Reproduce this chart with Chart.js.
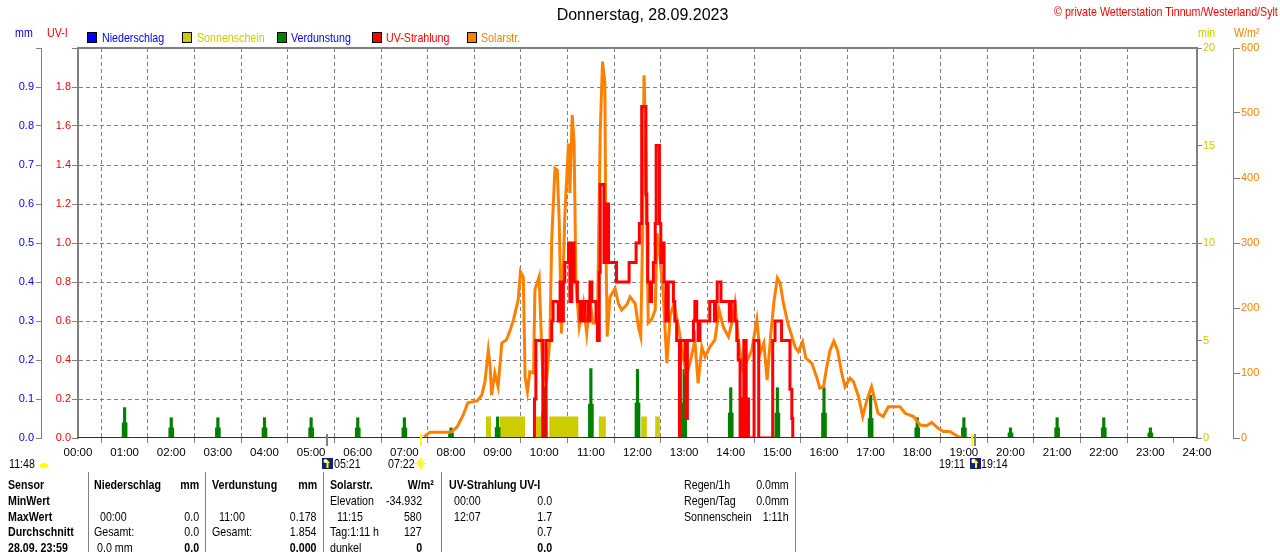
<!DOCTYPE html>
<html><head><meta charset="utf-8">
<script src="https://cdn.jsdelivr.net/npm/chart.js@4/dist/chart.umd.min.js"></script>
<style>
html,body{margin:0;padding:0;background:#fff;}
#wrap{position:relative;width:1280px;height:552px;overflow:hidden;font-family:'Liberation Sans',Arial,sans-serif;font-size:13px;color:#000;}
#c{position:absolute;left:0;top:0;}
.t{position:absolute;white-space:nowrap;line-height:16px;z-index:2;transform:scaleX(0.82);transform-origin:left top;}
.t.r{transform-origin:right top;}
.b{font-weight:bold;}
.sep{position:absolute;width:1px;background:#808080;top:472px;height:80px;z-index:2;}
.box{position:absolute;width:10px;height:11px;box-sizing:border-box;border:1px solid #000;top:32px;z-index:2;}
.ic{position:absolute;z-index:2;}
</style>
</head><body>
<div id="wrap">
<canvas id="c" width="1280" height="552"></canvas>

<div class="t" style="left:0;width:1285px;text-align:center;top:6px;font-size:16px;line-height:18px;transform:none;">Donnerstag, 28.09.2023</div>
<div class="t r" style="right:2px;top:4px;color:#ff0000;">© private Wetterstation Tinnum/Westerland/Sylt</div>

<div class="t" style="left:15px;top:25px;color:#0000ff;">mm</div>
<div class="t" style="left:47px;top:25px;color:#ff0000;">UV-I</div>
<div class="t" style="left:1198px;top:25px;color:#cccc00;">min</div>
<div class="t" style="left:1234px;top:25px;color:#ff8000;">W/m²</div>

<div class="box" style="left:87px;background:#0000ff;"></div>
<div class="t" style="left:102px;top:30px;color:#0000ff;">Niederschlag</div>
<div class="box" style="left:182px;background:#cccc00;"></div>
<div class="t" style="left:197px;top:30px;color:#cccc00;">Sonnenschein</div>
<div class="box" style="left:277px;background:#008000;"></div>
<div class="t" style="left:291px;top:30px;color:#0000ff;">Verdunstung</div>
<div class="box" style="left:372px;background:#ff0000;"></div>
<div class="t" style="left:386px;top:30px;color:#ff0000;">UV-Strahlung</div>
<div class="box" style="left:467px;background:#ff8000;"></div>
<div class="t" style="left:481px;top:30px;color:#ff8000;">Solarstr.</div>

<!-- sunrise / sunset row -->
<div class="t" style="left:9px;top:456px;">11:48</div>
<svg class="ic" style="left:39px;top:460px" width="10" height="8"><path d="M0.5 7.5 A4.5 4.5 0 0 1 9.5 7.5 Z" fill="#ffff00"/></svg>
<svg class="ic" style="left:322px;top:458px" width="11" height="11"><rect width="11" height="11" fill="#10207a"/><circle cx="3.5" cy="3" r="2" fill="#ffffff"/><path d="M5.5 2 L8 5 L6.5 5 L6.5 10 L4.5 10 L4.5 5 L3 5 Z" fill="#ffff00"/></svg>
<div class="t" style="left:334px;top:456px;">05:21</div>
<div class="t" style="left:388px;top:456px;">07:22</div>
<svg class="ic" style="left:415px;top:458px" width="11" height="11"><circle cx="5.5" cy="5.5" r="3.2" fill="#ffff00"/><g stroke="#ffff00" stroke-width="1"><line x1="5.5" y1="0" x2="5.5" y2="11"/><line x1="0" y1="5.5" x2="11" y2="5.5"/><line x1="1.5" y1="1.5" x2="9.5" y2="9.5"/><line x1="9.5" y1="1.5" x2="1.5" y2="9.5"/></g></svg>
<div class="t" style="left:939px;top:456px;">19:11</div>
<svg class="ic" style="left:970px;top:458px" width="11" height="11"><rect width="11" height="11" fill="#10207a"/><circle cx="3.5" cy="3" r="2.2" fill="#ffffff"/><path d="M6 2 L8.5 5 L7 5 L7 10 L5 10 L5 5 L3.5 5 Z" fill="#ffff00"/></svg>
<div class="t" style="left:981px;top:456px;">19:14</div>

<!-- table -->
<div class="sep" style="left:88px"></div>
<div class="sep" style="left:205px"></div>
<div class="sep" style="left:323px"></div>
<div class="sep" style="left:441px"></div>
<div class="sep" style="left:795px"></div>

<div class="t b" style="left:8px;top:477px;">Sensor</div>
<div class="t b" style="left:8px;top:493px;">MinWert</div>
<div class="t b" style="left:8px;top:509px;">MaxWert</div>
<div class="t b" style="left:8px;top:524px;">Durchschnitt</div>
<div class="t b" style="left:8px;top:540px;">28.09. 23:59</div>

<div class="t b" style="left:94px;top:477px;">Niederschlag</div>
<div class="t b r" style="right:1081px;top:477px;">mm</div>
<div class="t" style="left:100px;top:509px;">00:00</div>
<div class="t r" style="right:1081px;top:509px;">0.0</div>
<div class="t" style="left:94px;top:524px;">Gesamt:</div>
<div class="t r" style="right:1081px;top:524px;">0.0</div>
<div class="t" style="left:97px;top:540px;">0.0 mm</div>
<div class="t b r" style="right:1081px;top:540px;">0.0</div>

<div class="t b" style="left:212px;top:477px;">Verdunstung</div>
<div class="t b r" style="right:963px;top:477px;">mm</div>
<div class="t" style="left:219px;top:509px;">11:00</div>
<div class="t r" style="right:963px;top:509px;">0.178</div>
<div class="t" style="left:212px;top:524px;">Gesamt:</div>
<div class="t r" style="right:963px;top:524px;">1.854</div>
<div class="t b r" style="right:963px;top:540px;">0.000</div>

<div class="t b" style="left:330px;top:477px;">Solarstr.</div>
<div class="t b r" style="right:846px;top:477px;">W/m²</div>
<div class="t" style="left:330px;top:493px;">Elevation</div>
<div class="t r" style="right:858px;top:493px;">-34.932</div>
<div class="t" style="left:337px;top:509px;">11:15</div>
<div class="t r" style="right:858px;top:509px;">580</div>
<div class="t" style="left:330px;top:524px;">Tag:1:11 h</div>
<div class="t r" style="right:858px;top:524px;">127</div>
<div class="t" style="left:330px;top:540px;">dunkel</div>
<div class="t b r" style="right:858px;top:540px;">0</div>

<div class="t b" style="left:449px;top:477px;">UV-Strahlung UV-I</div>
<div class="t" style="left:454px;top:493px;">00:00</div>
<div class="t r" style="right:728px;top:493px;">0.0</div>
<div class="t" style="left:454px;top:509px;">12:07</div>
<div class="t r" style="right:728px;top:509px;">1.7</div>
<div class="t r" style="right:728px;top:524px;">0.7</div>
<div class="t b r" style="right:728px;top:540px;">0.0</div>

<div class="t" style="left:684px;top:477px;">Regen/1h</div>
<div class="t r" style="right:491px;top:477px;">0.0mm</div>
<div class="t" style="left:684px;top:493px;">Regen/Tag</div>
<div class="t r" style="right:491px;top:493px;">0.0mm</div>
<div class="t" style="left:684px;top:509px;">Sonnenschein</div>
<div class="t r" style="right:491px;top:509px;">1:11h</div>
</div>

<script>
// ---------------- data (time in decimal hours) ----------------
const hourTicks = [0,1,2,3,4,5,6,7,8,9,10,11,12,13,14,15,16,17,18,19,20,21,22,23,24];

const rainTime  = [0, 24];
const rainValue = [0, 0];

const evapTime  = [1,2,3,4,5,6,7,8,9,10,11,12,13,14,15,16,17,18,19,20,21,22,23];
const evapValue = [0.078,0.052,0.052,0.052,0.052,0.052,0.052,0.026,0.054,0.130,0.178,0.176,0.176,0.129,0.129,0.129,0.110,0.052,0.052,0.026,0.052,0.052,0.026];
const evapPart  = [0.039,0.026,0.026,0.026,0.026,0.026,0.026,0.013,0.027,0.065,0.087,0.090,0.090,0.064,0.064,0.064,0.050,0.026,0.026,0.013,0.026,0.026,0.013];

const sunStart   = [8.75, 9.05, 9.82, 10.11, 11.17, 12.08, 12.38];
const sunEnd     = [8.86, 9.59, 9.93, 10.73, 11.32, 12.20, 12.48];
const sunMinutes = [1.1, 1.1, 1.1, 1.1, 1.1, 1.1, 1.1];

const uvTime = [9.77,9.79,9.82,9.97,10.04,10.16,10.19,10.30,10.34,10.37,10.41,10.44,10.52,10.55,10.59,10.64,10.71,10.77,10.80,10.84,10.87,10.94,10.98,11.02,11.11,11.14,11.18,11.20,11.28,11.32,11.38,11.55,11.82,11.97,12.04,12.09,12.18,12.20,12.22,12.27,12.30,12.34,12.38,12.40,12.47,12.50,12.54,12.57,12.61,12.66,12.77,12.80,12.84,12.90,12.92,13.02,13.04,13.07,13.20,13.23,13.27,13.30,13.34,13.55,13.65,13.68,13.71,13.79,13.97,14.01,14.09,14.13,14.16,14.20,14.23,14.26,14.28,14.33,14.35,14.38,14.50,14.60,14.90,14.95,15.09,15.27,15.31,15.33];
const uvIndex = [0,0.2,0.5,0,0.5,0.6,0.7,0.6,0.8,0.6,0.8,0.9,1.0,0.7,1.0,0.8,0.7,0.6,0.7,0.6,0.7,0.6,0.8,0.7,0.6,0.5,0.85,1.3,0.9,1.2,0.9,0.8,0.9,1.0,1.1,1.7,1.25,1.1,0.8,0.7,0.8,0.9,1.1,1.5,1.1,0.9,1.0,0.8,0.6,0.8,0.7,0.6,0.5,0,0.5,0.4,0.1,0.5,0.6,0.7,0.6,0.5,0.6,0.7,0.6,0.7,0.8,0.7,0.6,0.7,0.6,0.5,0.4,0,0.2,0,0.5,0,0.2,0,0.5,0,0.5,0.6,0.5,0.25,0.1,0];

const solarTime = [7.42,7.55,7.98,8.02,8.13,8.26,8.36,8.56,8.66,8.73,8.80,8.84,8.87,8.94,9.01,9.09,9.19,9.27,9.34,9.44,9.49,9.55,9.59,9.64,9.69,9.77,9.80,9.89,9.94,9.97,10.05,10.12,10.16,10.23,10.28,10.32,10.37,10.44,10.52,10.55,10.60,10.64,10.68,10.75,10.84,10.91,10.98,11.05,11.14,11.20,11.25,11.30,11.32,11.35,11.41,11.52,11.59,11.66,11.77,11.84,11.95,12.02,12.07,12.11,12.14,12.18,12.23,12.30,12.38,12.42,12.48,12.55,12.63,12.70,12.78,12.88,12.98,13.05,13.14,13.20,13.23,13.30,13.38,13.45,13.55,13.66,13.75,13.84,13.95,14.02,14.09,14.16,14.26,14.36,14.45,14.56,14.63,14.71,14.78,14.86,14.93,15.00,15.06,15.13,15.23,15.27,15.38,15.45,15.54,15.61,15.74,15.84,15.91,15.99,16.06,16.13,16.21,16.29,16.38,16.45,16.56,16.63,16.74,16.83,16.90,16.97,17.02,17.07,17.16,17.27,17.38,17.63,17.74,17.92,18.06,18.20,18.31,18.45,18.56,18.70,18.77,18.88,18.96];
const solarValue = [2,9,9,10,17,35,54,57,66,87,135,110,66,100,79,146,151,166,182,212,256,248,94,71,102,100,228,248,150,94,89,151,305,415,412,335,161,340,453,377,497,454,238,171,207,161,212,177,177,469,579,546,315,156,217,230,207,197,205,217,207,171,156,315,558,443,177,182,197,315,279,223,115,187,207,171,125,95,120,140,151,84,140,125,140,151,197,171,156,176,207,151,105,120,135,182,130,146,89,161,212,246,238,207,175,166,140,133,148,123,115,94,77,79,110,135,149,135,100,79,92,87,64,33,53,69,79,64,38,33,48,48,38,33,20,19,24,15,10,10,7,2,0];

const sunMarkTime  = [5+21/60, 7+22/60, 19+11/60, 19+14/60];
const sunMarkColor = ['#808080', '#ffff00', '#ffff00', '#808080'];

// ---------------- build ----------------
const FONT = "'Liberation Sans',Arial,sans-serif";
const TICKFONT = {family: FONT, size: 11};
const pts = (xs, ys) => xs.map((x, i) => ({x: x, y: ys[i]}));
const sunData = [{x: 0, y: 0}];
sunStart.forEach((s, i) => { sunData.push({x: s, y: sunMinutes[i]}, {x: sunEnd[i], y: 0}); });
sunData.push({x: 24, y: 0});

const GRID = '#808080';
const clear = 'rgba(0,0,0,0)';

const framePlugin = {
  id: 'frame',
  afterDraw(chart) {
    const {ctx, chartArea} = chart;
    ctx.save();
    ctx.strokeStyle = GRID; ctx.lineWidth = 2;
    ctx.beginPath(); ctx.moveTo(chartArea.left - 1, chartArea.top); ctx.lineTo(chartArea.right + 1, chartArea.top); ctx.stroke();
    const xs = chart.scales.x;
    sunMarkTime.forEach((t, i) => {
      const px = Math.round(xs.getPixelForValue(t));
      ctx.fillStyle = sunMarkColor[i];
      ctx.fillRect(px - 1, chartArea.bottom - 4, 2, 12);
    });
    ctx.restore();
  }
};

new Chart(document.getElementById('c'), {
  type: 'line',
  data: {
    datasets: [
      {label: 'Niederschlag', data: pts(rainTime, rainValue), yAxisID: 'yMm', borderColor: '#2020b0', borderWidth: 2, pointRadius: 0, order: 0},
      {label: 'UV-Strahlung', data: pts(uvTime, uvIndex), yAxisID: 'yUv', borderColor: '#ff0000', borderWidth: 3, pointRadius: 0, stepped: true, order: 1},
      {label: 'Solarstr.', data: pts(solarTime, solarValue), yAxisID: 'yW', borderColor: '#ff8000', borderWidth: 3, pointRadius: 0, tension: 0, order: 2},
      {type: 'bar', label: 'Verdunstung', data: pts(evapTime, evapValue), yAxisID: 'yMm', backgroundColor: '#008000', borderWidth: 0, barThickness: 2.5, grouped: false, order: 3},
      {type: 'bar', label: 'Verdunstung Teil', data: pts(evapTime, evapPart), yAxisID: 'yMm', backgroundColor: '#008000', borderWidth: 0, barThickness: 5, grouped: false, order: 4},
      {label: 'Sonnenschein', data: sunData, yAxisID: 'yMin', stepped: true, fill: 'origin', backgroundColor: '#cccc00', borderColor: clear, borderWidth: 0, pointRadius: 0, order: 5}
    ]
  },
  options: {
    responsive: false, animation: false, devicePixelRatio: 1, events: [],
    layout: {padding: {top: 48, left: 0, right: 0, bottom: 0}},
    plugins: {legend: {display: false}, tooltip: {enabled: false}},
    scales: {
      x: {
        type: 'linear', min: 0, max: 24, offset: false,
        afterFit: s => { s.height = 114; },
        afterBuildTicks: s => { s.ticks = hourTicks.map(v => ({value: v})); },
        ticks: {autoSkip: false, maxRotation: 0, color: '#000', padding: 3, font: {family: FONT, size: 11.5},
                callback: v => (v < 10 ? '0' : '') + v + ':00'},
        grid: {color: c => (c.tick && (c.tick.value === 0 || c.tick.value === 24)) ? clear : GRID, tickColor: GRID, tickLength: 5, lineWidth: 1},
        border: {display: false, dash: [4, 3]}
      },
      yMm: {
        position: 'left', weight: 1, min: 0, max: 1,
        afterFit: s => { s.width = 41; },
        ticks: {stepSize: 0.1, color: '#0000ff', padding: 2, font: TICKFONT, callback: v => v > 0.95 ? '' : v.toFixed(1)},
        grid: {drawOnChartArea: false, tickLength: 5, color: GRID},
        border: {display: true, color: GRID, width: 1}
      },
      yUv: {
        position: 'left', weight: 0, min: 0, max: 2,
        afterFit: s => { s.width = 37; },
        ticks: {stepSize: 0.2, color: '#ff0000', padding: 1, font: TICKFONT, callback: v => v > 1.95 ? '' : v.toFixed(1)},
        grid: {color: c => (c.tick && (c.tick.value < 0.01 || c.tick.value > 1.99)) ? clear : GRID, tickColor: GRID, tickLength: 6, lineWidth: 1},
        border: {display: true, color: GRID, width: 2, dash: [4, 3]}
      },
      yMin: {
        position: 'right', weight: 0, min: 0, max: 20,
        afterFit: s => { s.width = 36; },
        ticks: {stepSize: 5, color: '#cccc00', padding: 1, font: TICKFONT},
        grid: {drawOnChartArea: false, tickLength: 5, color: GRID},
        border: {display: true, color: GRID, width: 2}
      },
      yW: {
        position: 'right', weight: 1, min: 0, max: 600,
        afterFit: s => { s.width = 47; },
        ticks: {stepSize: 100, color: '#ff8000', padding: 1, font: TICKFONT},
        grid: {drawOnChartArea: false, tickLength: 7, color: GRID},
        border: {display: true, color: GRID, width: 1}
      }
    }
  },
  plugins: [framePlugin]
});
</script>
</body></html>
